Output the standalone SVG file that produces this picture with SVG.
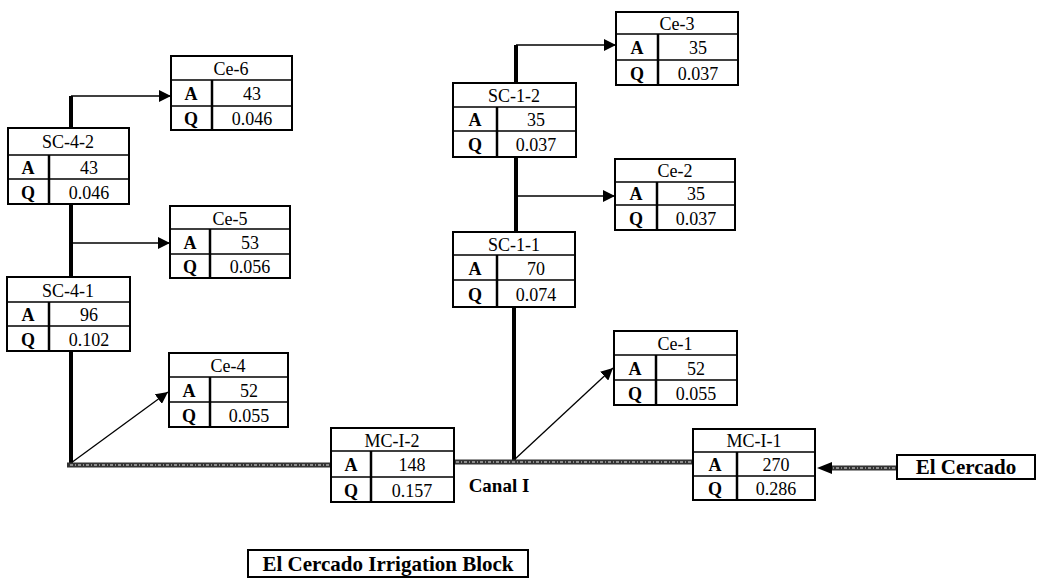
<svg xmlns="http://www.w3.org/2000/svg" width="1059" height="582" viewBox="0 0 1059 582">
<defs>
<marker id="ah" markerUnits="userSpaceOnUse" markerWidth="14" markerHeight="12" refX="12" refY="6" orient="auto">
<path d="M0,0 L12,6 L0,12 Z" fill="#000"/>
</marker>
</defs>
<style>
.b{fill:#fff;stroke:#000;stroke-width:2}
.l{stroke:#000;stroke-width:1.5}
.d{stroke:#000;stroke-width:2.5}
text{font-family:"Liberation Serif","Times New Roman",serif;font-size:18px;fill:#000;text-anchor:middle}
.k{font-weight:bold}
.t{font-weight:bold;font-size:21px}
.thick{stroke:#000;stroke-width:4;fill:none}
.thin{stroke:#000;stroke-width:1.3;fill:none}
.canal{stroke:#333;stroke-width:5;fill:none}
.tex{stroke:#aaa;stroke-width:1.5;stroke-dasharray:3 2 1 2;fill:none}
</style>
<rect width="1059" height="582" fill="#fff"/>
<g id="connectors">
<path class="thick" d="M71,96 V128 M71,204 V277 M71,351 V466"/>
<path class="thin" d="M71,96 H171" marker-end="url(#ah)"/>
<path class="thin" d="M71,243 H170" marker-end="url(#ah)"/>
<path class="thin" d="M71,463 L168,392" marker-end="url(#ah)"/>
<path class="thick" d="M516,45 V83 M516,157 V232 M514,307 V463"/>
<path class="thin" d="M516,45 H616" marker-end="url(#ah)"/>
<path class="thin" d="M516,196 H615" marker-end="url(#ah)"/>
<path class="thin" d="M514,460 L613,368" marker-end="url(#ah)"/>
<path class="canal" d="M67,465 H331 M454,462 H693"/>
<path class="tex" d="M70,465 H329 M456,462 H691"/>
<path class="canal" d="M897,468 H830"/>
<path class="tex" d="M895,468 H830"/>
<path d="M817,468 L832,462 L832,474 Z" fill="#000"/>
</g>
<g id="Ce-6">
<rect class="b" x="171" y="56" width="121" height="74"/>
<path class="l" d="M171,80 H292 M171,106 H292"/><path class="d" d="M212,80 V130"/>
<text x="231" y="75">Ce-6</text><text class="k" x="191" y="100">A</text><text x="252" y="100">43</text>
<text class="k" x="191" y="125">Q</text><text x="252" y="125">0.046</text>
</g>
<g id="SC-4-2">
<rect class="b" x="8" y="128" width="121" height="76"/>
<path class="l" d="M8,155 H129 M8,179 H129"/><path class="d" d="M49,155 V204"/>
<text x="68" y="148">SC-4-2</text><text class="k" x="28" y="174">A</text><text x="89" y="174">43</text>
<text class="k" x="28" y="199">Q</text><text x="89" y="199">0.046</text>
</g>
<g id="Ce-5">
<rect class="b" x="170" y="206" width="120" height="72"/>
<path class="l" d="M170,229 H290 M170,254 H290"/><path class="d" d="M210,229 V278"/>
<text x="230" y="225">Ce-5</text><text class="k" x="190" y="249">A</text><text x="250" y="249">53</text>
<text class="k" x="190" y="273">Q</text><text x="250" y="273">0.056</text>
</g>
<g id="SC-4-1">
<rect class="b" x="7" y="277" width="123" height="74"/>
<path class="l" d="M7,302 H130 M7,326 H130"/><path class="d" d="M49,302 V351"/>
<text x="68" y="297">SC-4-1</text><text class="k" x="28" y="321">A</text><text x="89" y="321">96</text>
<text class="k" x="28" y="346">Q</text><text x="89" y="346">0.102</text>
</g>
<g id="Ce-4">
<rect class="b" x="169" y="353" width="119" height="74"/>
<path class="l" d="M169,377 H288 M169,402 H288"/><path class="d" d="M210,377 V427"/>
<text x="228" y="372">Ce-4</text><text class="k" x="189" y="397">A</text><text x="249" y="397">52</text>
<text class="k" x="189" y="422">Q</text><text x="249" y="422">0.055</text>
</g>
<g id="Ce-3">
<rect class="b" x="616" y="12" width="122" height="73"/>
<path class="l" d="M616,34 H738 M616,60 H738"/><path class="d" d="M658,34 V85"/>
<text x="677" y="30">Ce-3</text><text class="k" x="637" y="54">A</text><text x="698" y="54">35</text>
<text class="k" x="637" y="80">Q</text><text x="698" y="80">0.037</text>
</g>
<g id="SC-1-2">
<rect class="b" x="453" y="83" width="123" height="74"/>
<path class="l" d="M453,107 H576 M453,131 H576"/><path class="d" d="M497,107 V157"/>
<text x="514" y="102">SC-1-2</text><text class="k" x="475" y="126">A</text><text x="536" y="126">35</text>
<text class="k" x="475" y="151">Q</text><text x="536" y="151">0.037</text>
</g>
<g id="Ce-2">
<rect class="b" x="615" y="159" width="120" height="71"/>
<path class="l" d="M615,182 H735 M615,205 H735"/><path class="d" d="M657,182 V230"/>
<text x="675" y="177">Ce-2</text><text class="k" x="636" y="200">A</text><text x="696" y="200">35</text>
<text class="k" x="636" y="225">Q</text><text x="696" y="225">0.037</text>
</g>
<g id="SC-1-1">
<rect class="b" x="453" y="232" width="122" height="75"/>
<path class="l" d="M453,255 H575 M453,280 H575"/><path class="d" d="M497,255 V307"/>
<text x="514" y="251">SC-1-1</text><text class="k" x="475" y="275">A</text><text x="536" y="275">70</text>
<text class="k" x="475" y="301">Q</text><text x="536" y="301">0.074</text>
</g>
<g id="Ce-1">
<rect class="b" x="614" y="331" width="123" height="74"/>
<path class="l" d="M614,355 H737 M614,380 H737"/><path class="d" d="M656,355 V405"/>
<text x="675" y="350">Ce-1</text><text class="k" x="635" y="375">A</text><text x="696" y="375">52</text>
<text class="k" x="635" y="400">Q</text><text x="696" y="400">0.055</text>
</g>
<g id="MC-1-2">
<rect class="b" x="331" y="428" width="123" height="74"/>
<path class="l" d="M331,451 H454 M331,477 H454"/><path class="d" d="M371,451 V502"/>
<text x="392" y="447">MC-I-2</text><text class="k" x="351" y="471">A</text><text x="412" y="471">148</text>
<text class="k" x="351" y="497">Q</text><text x="412" y="497">0.157</text>
</g>
<g id="MC-1-1">
<rect class="b" x="693" y="429" width="122" height="71"/>
<path class="l" d="M693,452 H815 M693,476 H815"/><path class="d" d="M737,452 V500"/>
<text x="754" y="447">MC-I-1</text><text class="k" x="715" y="471">A</text><text x="776" y="471">270</text>
<text class="k" x="715" y="495">Q</text><text x="776" y="495">0.286</text>
</g>
<g id="El-Cercado">
<rect class="b" x="897" y="455" width="138" height="24"/>
<text class="t" x="966" y="474">El Cercado</text>
</g>
<g id="Canal-label">
<text class="k" x="499" y="492" style="font-size:19px">Canal I</text>
</g>
<g id="title">
<rect class="b" x="248" y="550" width="280" height="27"/>
<text class="t" x="388" y="571">El Cercado Irrigation Block</text>
</g>
</svg>
